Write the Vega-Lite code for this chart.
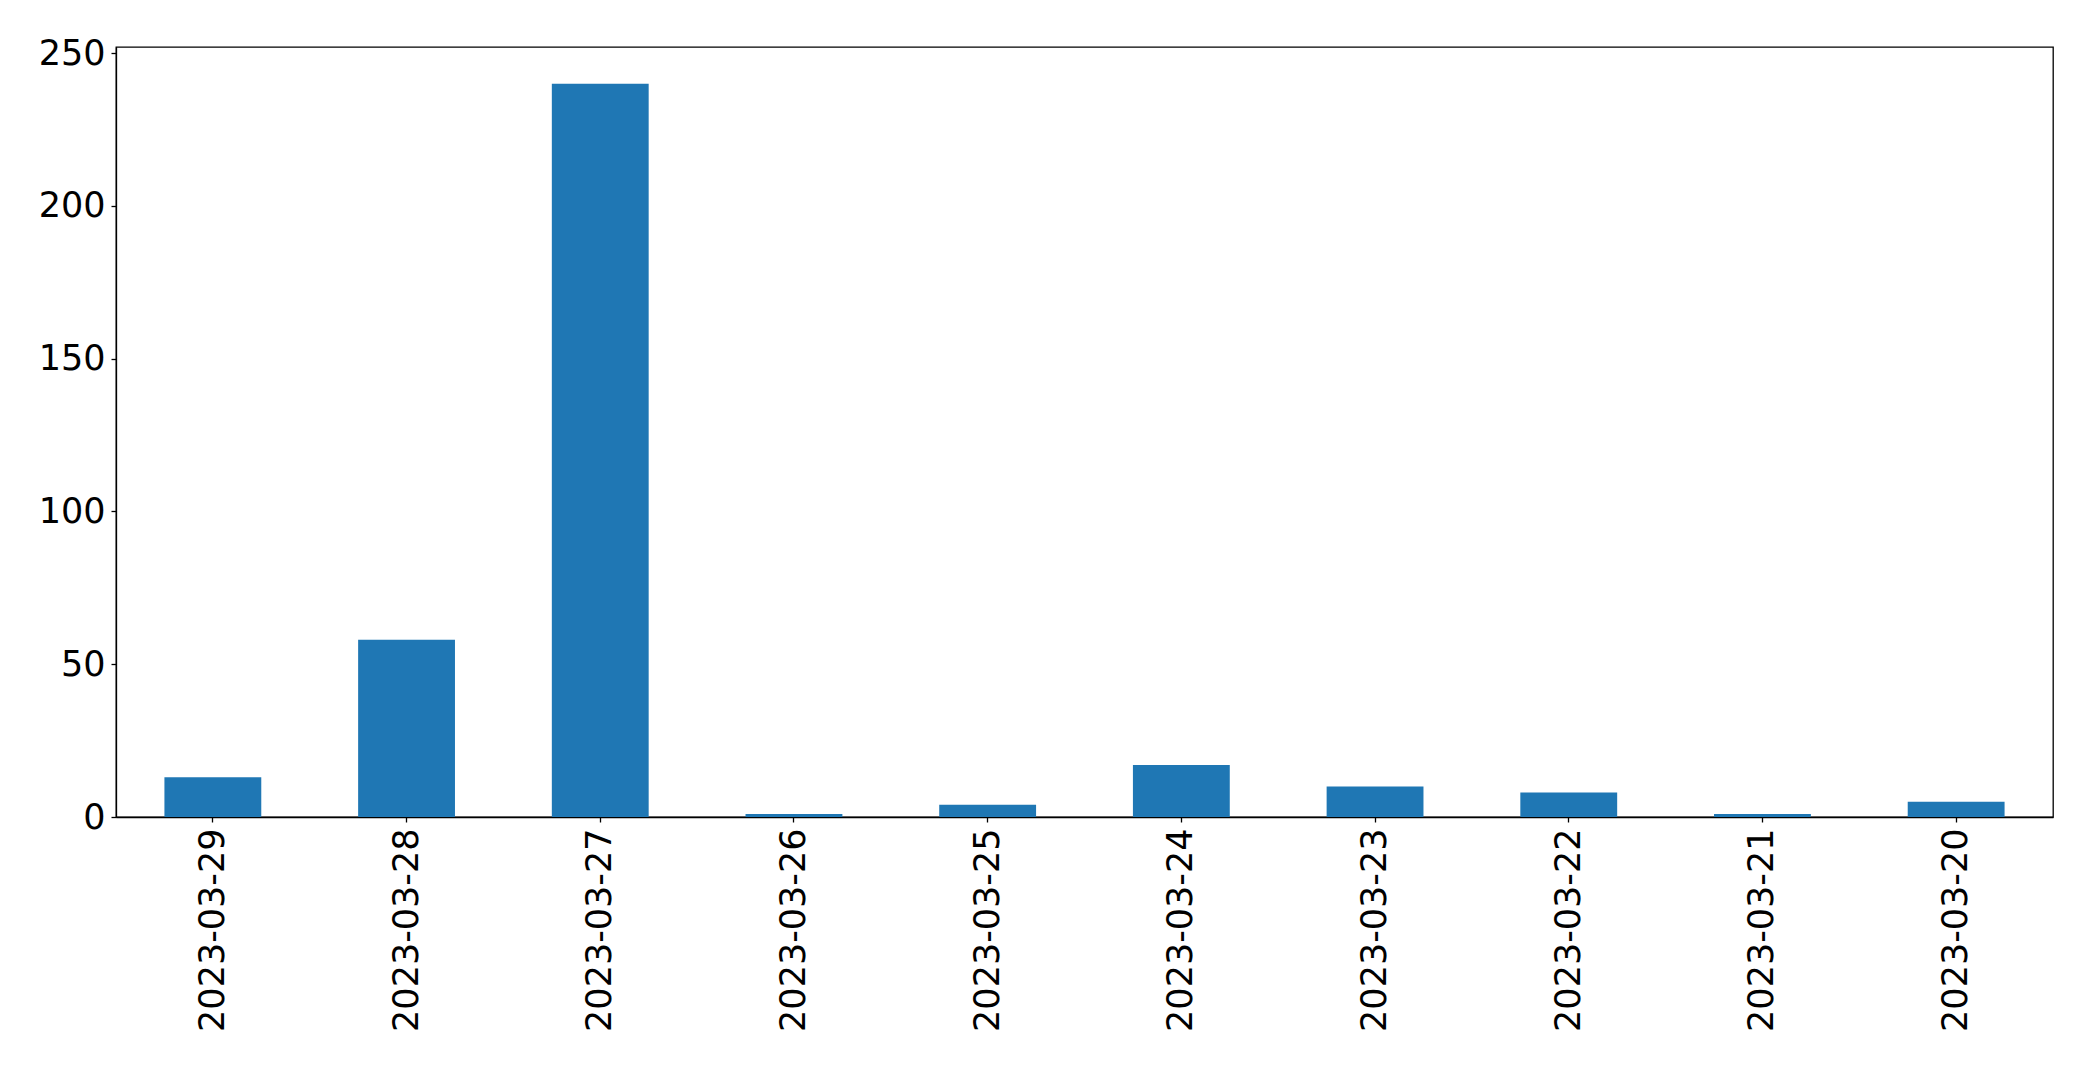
{
  "$schema": "https://vega.github.io/schema/vega-lite/v6.json",
  "autosize": "none",
  "padding": {"left": 116, "top": 47, "right": 40, "bottom": 252},
  "width": 1937,
  "height": 770,
  "background": "white",
  "config": {
    "view": {"stroke": "black", "strokeWidth": 1.3},
    "axis": {
      "labelFont": "DejaVu Sans",
      "labelFontSize": 35,
      "labelColor": "black",
      "labelLimit": 0,
      "domainColor": "black",
      "domainWidth": 1.3,
      "tickColor": "black",
      "tickWidth": 1.3,
      "tickSize": 5,
      "labelPadding": 6,
      "grid": false,
      "title": null
    }
  },
  "data": {
    "values": [
      {"date": "2023-03-29", "count": 13},
      {"date": "2023-03-28", "count": 58},
      {"date": "2023-03-27", "count": 240},
      {"date": "2023-03-26", "count": 1},
      {"date": "2023-03-25", "count": 4},
      {"date": "2023-03-24", "count": 17},
      {"date": "2023-03-23", "count": 10},
      {"date": "2023-03-22", "count": 8},
      {"date": "2023-03-21", "count": 1},
      {"date": "2023-03-20", "count": 5}
    ]
  },
  "mark": {"type": "bar", "color": "#1f77b4"},
  "encoding": {
    "x": {
      "field": "date",
      "type": "nominal",
      "sort": null,
      "scale": {"paddingInner": 0.5, "paddingOuter": 0.25},
      "axis": {"labelAngle": -90, "labelAlign": "right", "labelBaseline": "middle"}
    },
    "y": {
      "field": "count",
      "type": "quantitative",
      "scale": {"domain": [0, 252], "nice": false},
      "axis": {"values": [0, 50, 100, 150, 200, 250]}
    }
  }
}
